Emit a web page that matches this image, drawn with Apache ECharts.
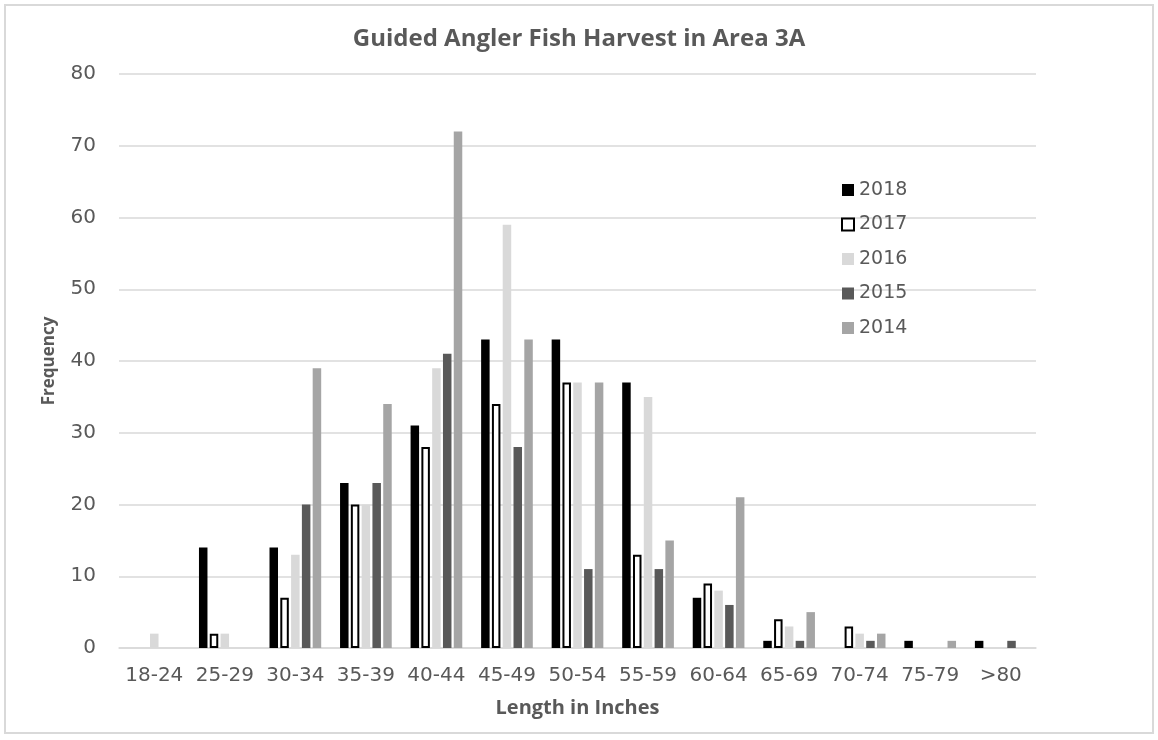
<!DOCTYPE html>
<html>
<head>
<meta charset="utf-8">
<script src="https://cdn.jsdelivr.net/npm/echarts@6/dist/echarts.min.js"></script>
<style>
  html, body { margin: 0; padding: 0; background: #fff; }
  #frame { position: absolute; left: 4px; top: 4px; width: 1150px; height: 730px; border: 2px solid #d9d9d9; box-sizing: border-box; }
  #chart { position: absolute; left: 0; top: 0; width: 1158px; height: 740px; }
</style>
</head>
<body>
<div id="frame"></div>
<div id="chart"></div>
<script>
// length classes on the x axis
const categories = ['18-24', '25-29', '30-34', '35-39', '40-44', '45-49', '50-54', '55-59', '60-64', '65-69', '70-74', '75-79', '>80']
const yTicks = [0, 10, 20, 30, 40, 50, 60, 70, 80]

// frequency per year
const y2018 = [0, 14, 14, 23, 31, 43, 43, 37, 7, 1, 0, 1, 1]
const y2017 = [0, 2, 7, 20, 28, 34, 37, 13, 9, 4, 3, 0, 0]
const y2016 = [2, 2, 13, 20, 39, 59, 37, 35, 8, 3, 2, 0, 0]
const y2015 = [0, 0, 20, 23, 41, 28, 11, 11, 6, 1, 1, 0, 1]
const y2014 = [0, 0, 39, 34, 72, 43, 37, 15, 21, 5, 2, 1, 0]

const years = [
  { name: '2018', data: y2018, color: '#000000' },
  { name: '2017', data: y2017, color: '#ffffff', border: '#000000' },
  { name: '2016', data: y2016, color: '#d9d9d9' },
  { name: '2015', data: y2015, color: '#595959' },
  { name: '2014', data: y2014, color: '#a5a5a5' }
]

const txt = '#595959'
const chart = echarts.init(document.getElementById('chart'))

const series = years.map(y => ({
  name: y.name,
  type: 'bar',
  barWidth: 8.5,
  barGap: '27%',
  // zero bars are not drawn (Excel shows nothing there)
  data: y.data.map(v => (v === 0 ? '-' : v)),
  itemStyle: y.border
    ? { color: y.color, borderColor: y.border, borderWidth: 2 }
    : { color: y.color },
  emphasis: { disabled: true }
}))

chart.setOption({
  animation: false,
  title: {
    text: 'Guided Angler Fish Harvest in Area 3A',
    left: 'center',
    top: 22,
    textStyle: { fontFamily: 'Open Sans', fontWeight: 'bold', fontSize: 24, color: txt }
  },
  legend: {
    orient: 'vertical',
    left: 836,
    top: 175,
    icon: 'rect',
    itemWidth: 12,
    itemHeight: 12,
    itemGap: 14.5,
    textStyle: { fontFamily: 'DejaVu Sans', fontSize: 19, color: txt, lineHeight: 20 },
    data: years.map(y => y.name)
  },
  grid: { left: 119, right: 122, top: 74, bottom: 92 },
  xAxis: {
    type: 'category',
    data: categories,
    name: 'Length in Inches',
    nameLocation: 'middle',
    nameGap: 50,
    nameTextStyle: { fontFamily: 'Open Sans', fontWeight: 'bold', fontSize: 20, color: txt },
    axisLine: { lineStyle: { color: '#d9d9d9', width: 1.5 } },
    axisTick: { show: false },
    axisLabel: { interval: 0, fontFamily: 'DejaVu Sans', fontSize: 20, color: txt, margin: 18 }
  },
  yAxis: {
    type: 'value',
    min: yTicks[0],
    max: yTicks[yTicks.length - 1],
    interval: 10,
    name: 'Frequency',
    nameLocation: 'middle',
    nameGap: 61,
    nameTextStyle: { fontFamily: 'Open Sans', fontWeight: 'bold', fontSize: 17, color: txt },
    axisLine: { show: false },
    axisTick: { show: false },
    splitLine: { lineStyle: { color: '#d9d9d9', width: 1.5 } },
    axisLabel: { fontFamily: 'DejaVu Sans', fontSize: 20, color: txt, margin: 23 }
  },
  series
})
</script>
</body>
</html>
